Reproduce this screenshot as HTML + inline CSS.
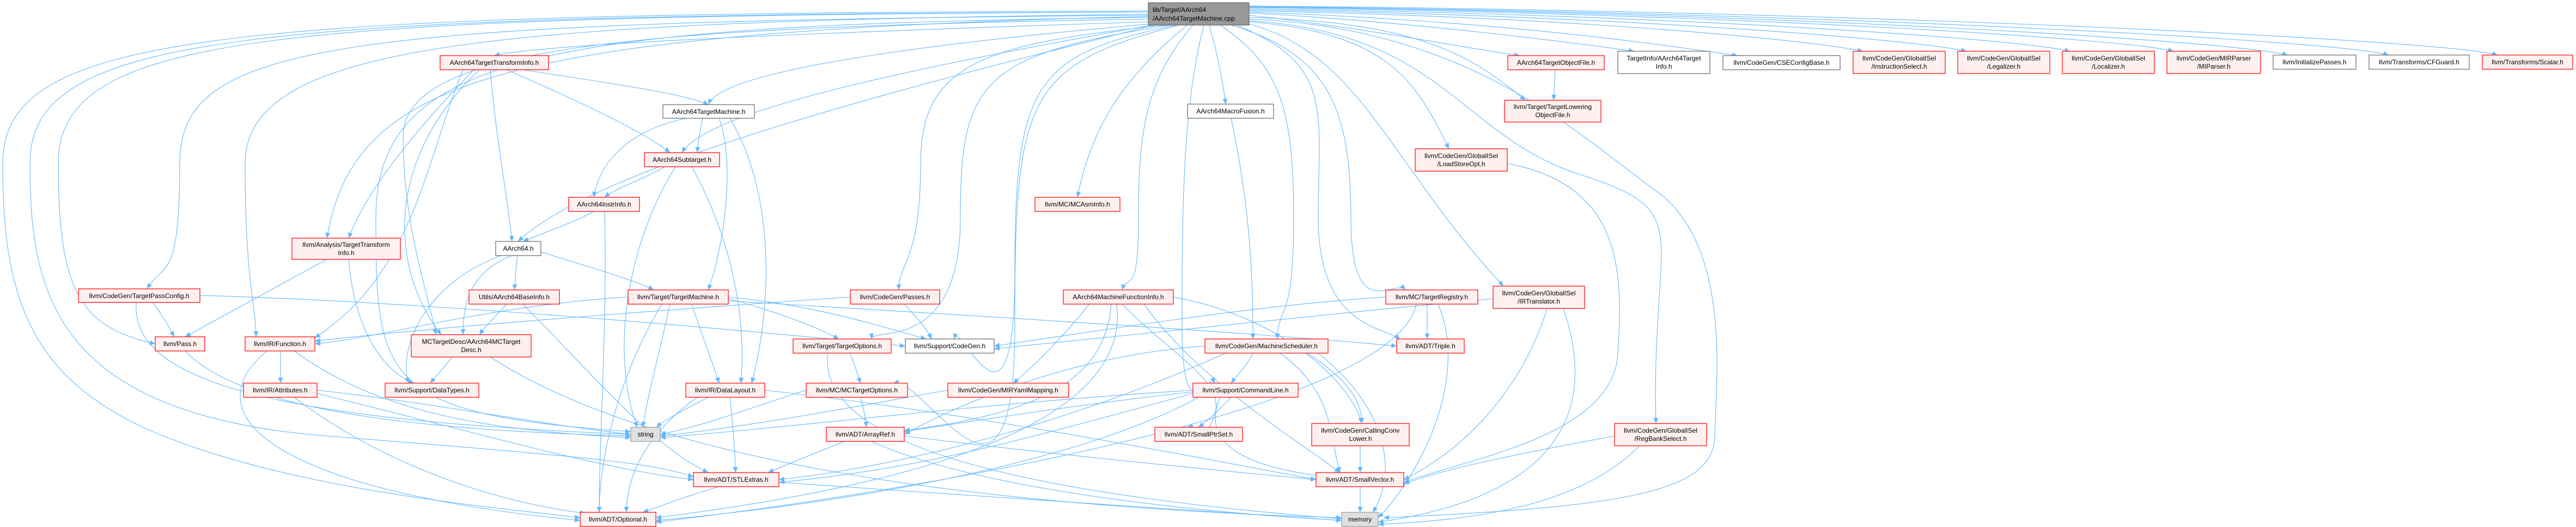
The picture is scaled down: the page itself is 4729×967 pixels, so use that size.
<!DOCTYPE html>
<html><head><meta charset="utf-8"><style>
html,body{margin:0;padding:0;background:#fff;}
svg{display:block;}
text{font-family:"Liberation Sans",Arial,sans-serif;font-size:12px;fill:#000;}
.r{fill:#fff0f0;stroke:#ff0000;stroke-width:1.2;}
.w{fill:#fff;stroke:#666;stroke-width:1.2;}
.g{fill:#e0e0e0;stroke:#999;stroke-width:1.2;}
.t{fill:#999;stroke:#666;stroke-width:1.2;}
.e path{fill:none;stroke:#63b8ff;stroke-width:1.1;marker-end:url(#a);}
</style></head><body>
<svg width="4729" height="967" viewBox="0 0 4729 967" xmlns="http://www.w3.org/2000/svg">
<defs><marker id="a" markerUnits="userSpaceOnUse" markerWidth="11" markerHeight="9" refX="10" refY="4.5" orient="auto"><path d="M0,0 L10,4.5 L0,9 z" fill="#63b8ff"/></marker></defs>
<g class="e">
<!-- top node edges -->
<path d="M2108,40 C1500,60 1000,80 907,102"/>
<path d="M2110,44 C1700,80 1320,130 1301,192"/>
<path d="M2115,46 C1700,120 1300,200 1252,280"/>
<path d="M2120,46 C1700,150 1100,300 951,443"/>
<path d="M2108,30 C900,60 650,150 600,437"/>
<path d="M2108,28 C600,40 330,80 330,300 S300,480 270,530"/>
<path d="M2108,22 C500,30 107,60 107,300 S150,600 285,631"/>
<path d="M2108,26 C900,40 450,80 450,300 S470,560 470,618"/>
<path d="M2108,35 C1200,50 740,80 740,250 S790,550 800,614"/>
<path d="M2108,20 C400,25 5,60 5,300 S50,700 300,800 S900,930 1065,950"/>
<path d="M2108,22 C450,28 55,60 55,300 S100,760 600,800 S1200,850 1273,875"/>
<path d="M2108,32 C1000,45 690,100 690,400 S700,760 1158,792"/>
<path d="M2140,46 C1800,80 1690,120 1690,300 S1650,480 1650,532"/>
<path d="M2150,46 C1800,100 1763,150 1763,400 S1600,600 1600,622"/>
<path d="M2160,46 C1900,100 1863,150 1863,500 S1760,580 1752,622"/>
<path d="M2165,46 C1880,120 1863,180 1863,600 S1700,690 1640,703"/>
<path d="M2180,46 C2050,150 2000,250 1978,362"/>
<path d="M2190,46 C2100,150 2090,250 2090,400 S2070,500 2060,532"/>
<path d="M2220,46 C2235,100 2245,150 2250,191"/>
<path d="M2240,46 C2350,120 2375,200 2375,400 S2345,560 2345,622"/>
<path d="M2210,46 C2170,200 2170,400 2170,600 S2220,680 2230,703"/>
<path d="M2260,46 C2440,100 2480,200 2480,400 S2560,510 2580,532"/>
<path d="M2270,46 C2450,120 2420,200 2420,400 S2540,600 2570,622"/>
<path d="M2293,40 C2550,60 2600,150 2660,273"/>
<path d="M2293,44 C2500,100 2550,300 2760,525"/>
<path d="M2293,38 C2650,60 2680,250 2900,320 S3030,420 3040,777"/>
<path d="M2293,35 C2700,50 2900,250 3040,350 S3150,700 3148,800 S3000,930 2540,950"/>
<path d="M2293,32 C2600,40 2700,100 2800,184"/>
<path d="M2293,28 C2500,50 2700,90 2790,102"/>
<path d="M2293,24 C2600,40 2900,80 3000,94"/>
<path d="M2293,22 C2800,40 3100,90 3190,102"/>
<path d="M2293,20 C2850,30 3300,70 3420,94"/>
<path d="M2293,18 C2950,28 3500,70 3610,94"/>
<path d="M2293,16 C3050,26 3700,70 3800,94"/>
<path d="M2293,14 C3150,24 3900,70 3990,94"/>
<path d="M2293,13 C3250,22 4100,75 4200,101"/>
<path d="M2293,12 C3350,22 4300,75 4385,101"/>
<path d="M2293,11 C3450,20 4500,75 4585,101"/>
<!-- ATTI -->
<path d="M960,128 C1100,150 1250,170 1301,192"/>
<path d="M930,128 C1050,180 1180,240 1230,280"/>
<path d="M900,128 C910,250 930,350 940,443"/>
<path d="M870,128 C800,200 680,330 640,437"/>
<path d="M850,128 C780,300 760,500 578,620"/>
<path d="M880,128 C700,300 720,500 810,614"/>
<!-- ATM -->
<path d="M1290,217 C1285,240 1282,260 1280,280"/>
<path d="M1260,217 C1150,240 1100,300 1090,362"/>
<path d="M1320,217 C1350,300 1330,450 1300,532"/>
<path d="M1340,217 C1420,350 1420,550 1380,703"/>
<!-- ASub -->
<path d="M1220,306 C1180,330 1130,345 1110,362"/>
<path d="M1240,306 C1150,450 1120,650 1170,784"/>
<path d="M1270,306 C1350,450 1370,600 1360,703"/>
<!-- AII -->
<path d="M1090,388 C1050,410 990,430 960,443"/>
<path d="M1110,388 C1115,600 1100,800 1100,940"/>
<!-- A64 -->
<path d="M950,469 C948,490 945,510 945,532"/>
<path d="M993,462 C1080,490 1170,515 1200,532"/>
<path d="M940,469 C860,500 850,560 850,614"/>
<path d="M920,469 C780,520 730,640 750,703"/>
<!-- TTI -->
<path d="M600,476 C500,530 390,590 340,618"/>
<path d="M640,476 C650,600 700,680 760,703"/>
<!-- BaseInfo -->
<path d="M930,558 C910,580 890,600 880,614"/>
<path d="M960,558 C1100,700 1200,820 1300,867"/>
<!-- TM -->
<path d="M1153,545 C900,560 700,620 578,631"/>
<path d="M1230,558 C1210,650 1190,720 1180,784"/>
<path d="M1215,558 C1130,700 1100,850 1100,940"/>
<path d="M1270,558 C1290,620 1310,670 1320,703"/>
<path d="M1337,548 C1420,570 1500,600 1540,622"/>
<path d="M1337,545 C1500,560 1620,600 1700,622"/>
<path d="M1337,552 C1800,580 2300,610 2564,635"/>
<!-- MCTD -->
<path d="M830,655 C815,675 800,690 790,703"/>
<path d="M900,655 C1200,850 1800,930 2463,950"/>
<!-- TPC -->
<path d="M280,555 C300,580 310,600 320,618"/>
<path d="M367,542 C800,555 1300,600 1662,635"/>
<path d="M250,555 C240,700 500,770 1158,797"/>
<!-- Pass/Func/Attr -->
<path d="M340,644 C450,760 800,790 1158,800"/>
<path d="M515,644 C515,670 515,690 515,703"/>
<path d="M540,644 C700,760 900,790 1158,803"/>
<path d="M490,644 C350,760 500,900 1065,955"/>
<path d="M582,716 C800,740 1000,780 1158,797"/>
<path d="M540,729 C700,850 900,920 1075,942"/>
<path d="M582,722 C900,800 1100,860 1273,880"/>
<!-- DL -->
<path d="M1300,729 C1260,750 1220,770 1205,784"/>
<path d="M1340,729 C1345,780 1350,830 1350,867"/>
<path d="M1404,716 C1800,760 2200,840 2416,880"/>
<path d="M1280,729 C1180,800 1150,880 1150,940"/>
<!-- STL -->
<path d="M1320,893 C1260,910 1210,930 1180,940"/>
<path d="M1430,885 C1800,910 2200,940 2463,955"/>
<!-- Passes -->
<path d="M1660,558 C1680,580 1700,600 1710,622"/>
<path d="M1561,545 C1200,570 800,600 578,626"/>
<!-- AMFI -->
<path d="M2000,558 C1950,620 1900,670 1860,703"/>
<path d="M2040,558 C2030,700 1900,760 1660,790"/>
<path d="M2050,558 C2080,800 1600,900 1204,950"/>
<path d="M2154,545 C2350,580 2480,700 2500,777"/>
<path d="M2100,558 C2200,700 2400,820 2460,867"/>
<path d="M2060,558 C2150,650 2250,700 2230,760 S2200,780 2180,784"/>
<!-- TO / MCTO / MIRY -->
<path d="M1560,648 C1570,670 1575,690 1580,703"/>
<path d="M1520,648 C1500,800 1800,900 2463,952"/>
<path d="M1580,729 C1585,750 1590,770 1590,784"/>
<path d="M1480,716 C1400,740 1300,780 1212,797"/>
<path d="M1740,716 C1600,740 1400,780 1212,800"/>
<!-- MS -->
<path d="M2300,648 C2290,670 2270,690 2260,703"/>
<path d="M2212,635 C2000,650 1800,720 1660,797"/>
<path d="M2350,648 C2450,720 2440,800 2460,867"/>
<path d="M2400,648 C2480,700 2500,740 2500,777"/>
<path d="M2420,648 C2560,760 2560,880 2520,940"/>
<path d="M2250,648 C2000,760 1700,850 1430,880"/>
<!-- CL -->
<path d="M2260,729 C2240,750 2220,770 2200,784"/>
<path d="M2240,729 C2200,820 2300,860 2440,875"/>
<path d="M2190,722 C1900,800 1700,860 1430,885"/>
<path d="M2190,719 C2000,740 1800,770 1660,792"/>
<path d="M2190,716 C1800,740 1500,780 1212,803"/>
<path d="M2200,729 C2000,840 1600,920 1204,955"/>
<!-- AR / CCL / SV -->
<path d="M1550,810 C1500,830 1450,850 1410,867"/>
<path d="M1660,800 C1900,830 2200,860 2416,880"/>
<path d="M1600,810 C1800,900 2200,940 2463,955"/>
<path d="M2497,818 C2497,835 2497,850 2497,867"/>
<path d="M2497,893 C2497,910 2497,925 2497,940"/>
<!-- MFus -->
<path d="M2260,217 C2300,400 2300,550 2300,622"/>
<!-- TR / Triple -->
<path d="M2620,558 C2620,580 2620,600 2620,622"/>
<path d="M2544,545 C2300,560 2000,610 1825,635"/>
<path d="M2640,558 C2700,700 2600,880 2530,950"/>
<path d="M2600,558 C2560,750 1700,900 1204,958"/>
<!-- IRT / LSO / RBS -->
<path d="M2840,566 C2800,700 2700,820 2577,880"/>
<path d="M2870,566 C2950,800 2800,920 2530,958"/>
<path d="M2741,548 C2400,580 2000,620 1825,640"/>
<path d="M2767,300 C2980,340 2980,500 2970,650 S2700,840 2577,885"/>
<path d="M2964,800 C2800,830 2650,860 2577,888"/>
<path d="M3010,818 C2900,930 2700,955 2530,962"/>
<!-- ATOF -->
<path d="M2855,128 C2854,150 2853,170 2852,184"/>
</g>
<!-- nodes -->
<rect class="t" x="2108" y="5" width="185" height="41"/>
<text x="2116" y="22">lib/Target/AArch64</text><text x="2116" y="38">/AArch64TargetMachine.cpp</text>

<rect class="r" x="808" y="102" width="199" height="26"/><text x="907.5" y="119" text-anchor="middle">AArch64TargetTransformInfo.h</text>
<rect class="w" x="1217" y="192" width="168" height="25"/><text x="1301" y="209" text-anchor="middle">AArch64TargetMachine.h</text>
<rect class="r" x="1183" y="280" width="138" height="26"/><text x="1252" y="297" text-anchor="middle">AArch64Subtarget.h</text>
<rect class="r" x="1044" y="362" width="130" height="26"/><text x="1109" y="379" text-anchor="middle">AArch64InstrInfo.h</text>
<rect class="r" x="536" y="437" width="199" height="39"/><text x="635.5" y="453" text-anchor="middle">llvm/Analysis/TargetTransform</text><text x="635.5" y="468" text-anchor="middle">Info.h</text>
<rect class="w" x="910" y="443" width="83" height="26"/><text x="951.5" y="460" text-anchor="middle">AArch64.h</text>
<rect class="r" x="861" y="532" width="166" height="26"/><text x="944" y="549" text-anchor="middle">Utils/AArch64BaseInfo.h</text>
<rect class="r" x="1153" y="532" width="184" height="26"/><text x="1245" y="549" text-anchor="middle">llvm/Target/TargetMachine.h</text>
<rect class="r" x="144" y="530" width="223" height="25"/><text x="255.5" y="547" text-anchor="middle">llvm/CodeGen/TargetPassConfig.h</text>
<rect class="r" x="285" y="618" width="91" height="26"/><text x="330.5" y="635" text-anchor="middle">llvm/Pass.h</text>
<rect class="r" x="450" y="618" width="128" height="26"/><text x="514" y="635" text-anchor="middle">llvm/IR/Function.h</text>
<rect class="r" x="755" y="614" width="220" height="41"/><text x="865" y="631" text-anchor="middle">MCTargetDesc/AArch64MCTarget</text><text x="865" y="646" text-anchor="middle">Desc.h</text>
<rect class="r" x="447" y="703" width="135" height="26"/><text x="514.5" y="720" text-anchor="middle">llvm/IR/Attributes.h</text>
<rect class="r" x="707" y="703" width="172" height="26"/><text x="793" y="720" text-anchor="middle">llvm/Support/DataTypes.h</text>
<rect class="r" x="1259" y="703" width="145" height="26"/><text x="1331.5" y="720" text-anchor="middle">llvm/IR/DataLayout.h</text>
<rect class="g" x="1158" y="784" width="54" height="26"/><text x="1185" y="801" text-anchor="middle">string</text>
<rect class="r" x="1273" y="867" width="157" height="26"/><text x="1351.5" y="884" text-anchor="middle">llvm/ADT/STLExtras.h</text>
<rect class="r" x="1065" y="940" width="139" height="26"/><text x="1134.5" y="957" text-anchor="middle">llvm/ADT/Optional.h</text>
<rect class="r" x="1900" y="362" width="156" height="26"/><text x="1978" y="379" text-anchor="middle">llvm/MC/MCAsmInfo.h</text>
<rect class="r" x="1561" y="532" width="164" height="26"/><text x="1643" y="549" text-anchor="middle">llvm/CodeGen/Passes.h</text>
<rect class="r" x="1952" y="532" width="202" height="26"/><text x="2053" y="549" text-anchor="middle">AArch64MachineFunctionInfo.h</text>
<rect class="r" x="1456" y="622" width="180" height="26"/><text x="1546" y="639" text-anchor="middle">llvm/Target/TargetOptions.h</text>
<rect class="w" x="1662" y="622" width="163" height="26"/><text x="1743.5" y="639" text-anchor="middle">llvm/Support/CodeGen.h</text>
<rect class="r" x="2212" y="622" width="226" height="26"/><text x="2325" y="639" text-anchor="middle">llvm/CodeGen/MachineScheduler.h</text>
<rect class="r" x="1480" y="703" width="186" height="26"/><text x="1573" y="720" text-anchor="middle">llvm/MC/MCTargetOptions.h</text>
<rect class="r" x="1740" y="703" width="222" height="26"/><text x="1851" y="720" text-anchor="middle">llvm/CodeGen/MIRYamlMapping.h</text>
<rect class="r" x="2190" y="703" width="193" height="26"/><text x="2286.5" y="720" text-anchor="middle">llvm/Support/CommandLine.h</text>
<rect class="r" x="1517" y="784" width="143" height="26"/><text x="1588.5" y="801" text-anchor="middle">llvm/ADT/ArrayRef.h</text>
<rect class="r" x="2120" y="784" width="161" height="26"/><text x="2200.5" y="801" text-anchor="middle">llvm/ADT/SmallPtrSet.h</text>
<rect class="r" x="2408" y="777" width="179" height="41"/><text x="2497.5" y="794" text-anchor="middle">llvm/CodeGen/CallingConv</text><text x="2497.5" y="809" text-anchor="middle">Lower.h</text>
<rect class="r" x="2416" y="867" width="161" height="26"/><text x="2496.5" y="884" text-anchor="middle">llvm/ADT/SmallVector.h</text>
<rect class="g" x="2463" y="940" width="67" height="26"/><text x="2496.5" y="957" text-anchor="middle">memory</text>
<rect class="w" x="2180" y="191" width="158" height="26"/><text x="2259" y="208" text-anchor="middle">AArch64MacroFusion.h</text>
<rect class="r" x="2544" y="532" width="169" height="26"/><text x="2628.5" y="549" text-anchor="middle">llvm/MC/TargetRegistry.h</text>
<rect class="r" x="2564" y="622" width="124" height="26"/><text x="2626" y="639" text-anchor="middle">llvm/ADT/Triple.h</text>
<rect class="r" x="2598" y="273" width="169" height="41"/><text x="2682.5" y="290" text-anchor="middle">llvm/CodeGen/GlobalISel</text><text x="2682.5" y="305" text-anchor="middle">/LoadStoreOpt.h</text>
<rect class="r" x="2741" y="525" width="168" height="41"/><text x="2825" y="542" text-anchor="middle">llvm/CodeGen/GlobalISel</text><text x="2825" y="557" text-anchor="middle">/IRTranslator.h</text>
<rect class="r" x="2964" y="777" width="169" height="41"/><text x="3048.5" y="794" text-anchor="middle">llvm/CodeGen/GlobalISel</text><text x="3048.5" y="809" text-anchor="middle">/RegBankSelect.h</text>
<rect class="r" x="2768" y="102" width="177" height="26"/><text x="2856.5" y="119" text-anchor="middle">AArch64TargetObjectFile.h</text>
<rect class="r" x="2762" y="184" width="177" height="40"/><text x="2850.5" y="200" text-anchor="middle">llvm/Target/TargetLowering</text><text x="2850.5" y="215" text-anchor="middle">ObjectFile.h</text>
<rect class="w" x="2970" y="94" width="169" height="41"/><text x="3054.5" y="111" text-anchor="middle">TargetInfo/AArch64Target</text><text x="3054.5" y="126" text-anchor="middle">Info.h</text>
<rect class="w" x="3163" y="102" width="215" height="26"/><text x="3270.5" y="119" text-anchor="middle">llvm/CodeGen/CSEConfigBase.h</text>
<rect class="r" x="3402" y="94" width="169" height="41"/><text x="3486.5" y="111" text-anchor="middle">llvm/CodeGen/GlobalISel</text><text x="3486.5" y="126" text-anchor="middle">/InstructionSelect.h</text>
<rect class="r" x="3594" y="94" width="169" height="41"/><text x="3678.5" y="111" text-anchor="middle">llvm/CodeGen/GlobalISel</text><text x="3678.5" y="126" text-anchor="middle">/Legalizer.h</text>
<rect class="r" x="3786" y="94" width="169" height="41"/><text x="3870.5" y="111" text-anchor="middle">llvm/CodeGen/GlobalISel</text><text x="3870.5" y="126" text-anchor="middle">/Localizer.h</text>
<rect class="r" x="3978" y="94" width="172" height="41"/><text x="4064" y="111" text-anchor="middle">llvm/CodeGen/MIRParser</text><text x="4064" y="126" text-anchor="middle">/MIParser.h</text>
<rect class="w" x="4173" y="101" width="152" height="26"/><text x="4249" y="118" text-anchor="middle">llvm/InitializePasses.h</text>
<rect class="w" x="4349" y="101" width="184" height="26"/><text x="4441" y="118" text-anchor="middle">llvm/Transforms/CFGuard.h</text>
<rect class="r" x="4557" y="101" width="166" height="26"/><text x="4640" y="118" text-anchor="middle">llvm/Transforms/Scalar.h</text>
</svg>
</body></html>
